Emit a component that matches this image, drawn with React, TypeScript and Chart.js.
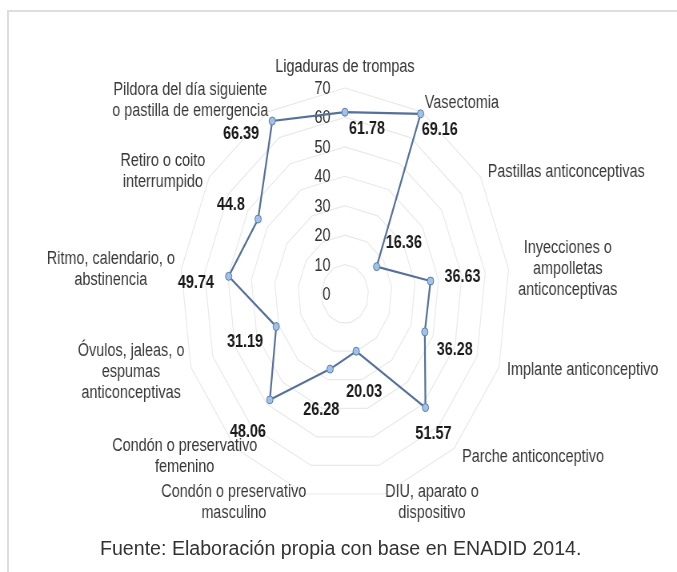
import React, { useEffect, useRef } from "react";
import { Chart, registerables } from "chart.js";

Chart.register(...registerables);

// ---- data ----
const categories: string[][] = [
  ["Ligaduras de trompas"],
  ["Vasectomia"],
  ["Pastillas anticonceptivas"],
  ["Inyecciones o", "ampolletas", "anticonceptivas"],
  ["Implante anticonceptivo"],
  ["Parche anticonceptivo"],
  ["DIU, aparato o", "dispositivo"],
  ["Condón o preservativo", "masculino"],
  ["Condón o preservativo", "femenino"],
  ["Óvulos, jaleas, o", "espumas", "anticonceptivas"],
  ["Ritmo, calendario, o", "abstinencia"],
  ["Retiro o coito", "interrumpido"],
  ["Pildora del día siguiente", "o pastilla de emergencia"],
];
const values: number[] = [61.78, 69.16, 16.36, 36.63, 36.28, 51.57, 20.03, 26.28, 48.06, 31.19, 49.74, 44.8, 66.39];
const valueLabels: string[] = ["61.78", "69.16", "16.36", "36.63", "36.28", "51.57", "20.03", "26.28", "48.06", "31.19", "49.74", "44.8", "66.39"];
const tickValues: number[] = [0, 10, 20, 30, 40, 50, 60, 70];
const caption = "Fuente: Elaboración propia con base en ENADID 2014.";

// ---- styling (label placement relative to the scale's own positions) ----
type Align = "left" | "right" | "center";
const catLabelStyle: { align: Align; dx: number; dy: number }[] = [
  { align: "center", dx: 0, dy: -21 },
  { align: "left", dx: 4, dy: -9 },
  { align: "left", dx: 9, dy: -5 },
  { align: "left", dx: 12, dy: 0 },
  { align: "left", dx: 10, dy: 3 },
  { align: "left", dx: 10, dy: 9 },
  { align: "left", dx: 1, dy: 9 },
  { align: "right", dx: 1, dy: 9 },
  { align: "right", dx: 27, dy: 8 },
  { align: "right", dx: -8, dy: 5 },
  { align: "right", dx: -8, dy: 0 },
  { align: "right", dx: -5, dy: -5 },
  { align: "right", dx: 0, dy: -11 },
];
const valueLabelOffset: [number, number][] = [
  [27.5, 17], [24, 16], [34, -24], [40, -4], [37.5, 18], [10, 26], [10, 41],
  [-11, 41], [-27.5, 32], [-39, 15], [-41, 7], [-34, -14], [-39, 13],
];

const FONT = '"Liberation Sans", Arial, sans-serif';
const SQUEEZE = 0.8;
const CANVAS_W = 846;
const CANVAS_H = 572;

const labelPlugin = {
  id: "radarLabels",
  beforeDatasetsDraw(chart: any) {
    const ctx = chart.ctx;
    const scale = chart.scales.r;
    ctx.save();
    ctx.font = `18px ${FONT}`;
    ctx.fillStyle = "#333333";
    ctx.textAlign = "right";
    ctx.textBaseline = "middle";
    tickValues.forEach((v) => {
      const d = scale.getDistanceFromCenterForValue(v);
      ctx.fillText(String(v), scale.xCenter - 18, scale.yCenter - d + 1);
    });
    // category labels
    const lineH = 21;
    ctx.fillStyle = "#383838";
    categories.forEach((lines, i) => {
      const p = scale.getPointPosition(i, scale.drawingArea);
      const st = catLabelStyle[i];
      const widths = lines.map((l) => ctx.measureText(l).width);
      const bw = Math.max(...widths);
      let left: number;
      if (st.align === "left") left = p.x + st.dx;
      else if (st.align === "right") left = p.x + st.dx - bw;
      else left = p.x + st.dx - bw / 2;
      const cx = left + bw / 2;
      const cy = p.y + st.dy;
      const top = cy - (lines.length * lineH) / 2;
      ctx.textAlign = "center";
      lines.forEach((l, k) => {
        ctx.fillText(l, cx, top + lineH * k + lineH / 2);
      });
    });
    ctx.restore();
  },
  afterDatasetsDraw(chart: any) {
    const ctx = chart.ctx;
    const meta = chart.getDatasetMeta(0);
    ctx.save();
    ctx.font = `bold 18px ${FONT}`;
    ctx.fillStyle = "#1a1a1a";
    ctx.textAlign = "center";
    ctx.textBaseline = "middle";
    meta.data.forEach((el: any, i: number) => {
      const [dx, dy] = valueLabelOffset[i];
      ctx.fillText(valueLabels[i], el.x + dx, el.y + dy);
    });
    ctx.restore();
  },
};

export default function App() {
  const ref = useRef<HTMLCanvasElement>(null);
  useEffect(() => {
    if (!ref.current) return;
    const chart = new Chart(ref.current, {
      type: "radar",
      data: {
        labels: categories.map((c) => c.join(" ")),
        datasets: [
          {
            data: values,
            borderColor: "#55709a",
            borderWidth: 2.2,
            backgroundColor: "rgba(0,0,0,0)",
            fill: false,
            pointRadius: 4,
            pointBackgroundColor: "#9fc2e8",
            pointBorderColor: "#5b7aa6",
            pointBorderWidth: 1,
          },
        ],
      },
      options: {
        responsive: false,
        maintainAspectRatio: false,
        devicePixelRatio: 1,
        animation: false,
        layout: { padding: { left: 225, right: 209, top: 88, bottom: 72 } },
        plugins: { legend: { display: false }, tooltip: { enabled: false } },
        scales: {
          r: {
            min: 0,
            max: 70,
            ticks: { stepSize: 10, display: false },
            pointLabels: { display: false },
            grid: { color: "#e9e9e9", lineWidth: 1.2 },
            angleLines: { display: false },
          },
        },
      },
      plugins: [labelPlugin],
    });
    return () => chart.destroy();
  }, []);

  return (
    <div style={{ position: "absolute", left: 0, top: 0, width: 677, height: 572, overflow: "hidden", background: "#fff" }}>
      <div
        style={{
          position: "absolute",
          left: 7,
          top: 10,
          width: 800,
          height: 700,
          borderTop: "2px solid #dedede",
          borderLeft: "2px solid #dedede",
        }}
      />
      <canvas
        ref={ref}
        width={CANVAS_W}
        height={CANVAS_H}
        style={{ position: "absolute", left: 0, top: 0, width: `${CANVAS_W * SQUEEZE}px`, height: `${CANVAS_H}px` }}
      />
      <div
        style={{
          position: "absolute",
          left: 100,
          top: 537,
          fontFamily: FONT,
          fontSize: 19.6,
          lineHeight: "22px",
          color: "#333",
          whiteSpace: "nowrap",
        }}
      >
        {caption}
      </div>
    </div>
  );
}
